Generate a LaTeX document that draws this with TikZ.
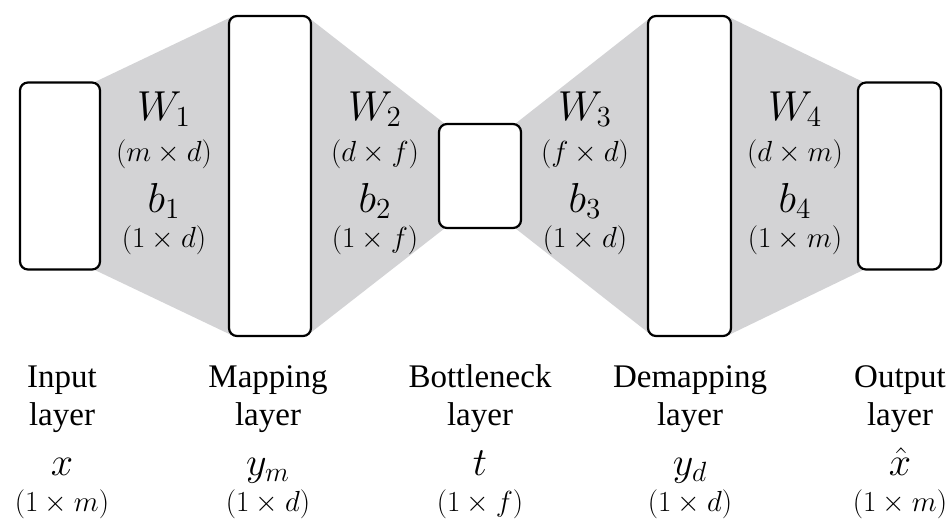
\documentclass[tikz,border=0pt]{standalone}
\usepackage{graphicx}
\usepackage{fontspec}
\setmainfont{Liberation Serif}
\definecolor{greyfill}{RGB}{211,211,213}
\newcommand{\mysymA}[1]{\scalebox{2.02}{\fontsize{20.74}{25}\selectfont$#1$}}
\newcommand{\mysymD}[1]{\scalebox{1.40}{\fontsize{20.74}{25}\selectfont$#1$}}
\newcommand{\mysymB}[1]{\scalebox{1.93}{\fontsize{20.74}{25}\selectfont$#1$}}
\begin{document}
\begin{tikzpicture}[x=1pt,y=-1pt,
  layerbox/.style={draw, line width=2.2pt, rounded corners=8pt, fill=white, inner sep=0pt},
  sym/.style={anchor=base, inner sep=0pt},
  dimlab/.style={anchor=base, inner sep=0pt},
  word/.style={anchor=base, inner sep=0pt, font=\fontsize{33}{40}\selectfont},
  bsym/.style={anchor=base, inner sep=0pt}]
\useasboundingbox (0,0) rectangle (949,519);
% box positions
\coordinate (pin) at (60,176);
\coordinate (pmap) at (270,176);
\coordinate (pbot) at (480,176);
\coordinate (pdem) at (689.5,176);
\coordinate (pout) at (899.5,176);
% invisible placeholders for geometry
\path (pin) node[minimum width=80pt, minimum height=187pt, inner sep=0pt] (in) {};
\path (pmap) node[minimum width=82pt, minimum height=320pt, inner sep=0pt] (map) {};
\path (pbot) node[minimum width=82pt, minimum height=104pt, inner sep=0pt] (bot) {};
\path (pdem) node[minimum width=83pt, minimum height=320pt, inner sep=0pt] (dem) {};
\path (pout) node[minimum width=83pt, minimum height=187pt, inner sep=0pt] (out) {};
% grey connections
\fill[greyfill] ([xshift=-6pt]in.north east) -- ([xshift=5pt]map.north west) -- ([xshift=5pt]map.south west) -- ([xshift=-6pt]in.south east) -- cycle;
\fill[greyfill] ([xshift=-5pt]map.north east) -- ([xshift=6pt]bot.north west) -- ([xshift=6pt]bot.south west) -- ([xshift=-5pt]map.south east) -- cycle;
\fill[greyfill] ([xshift=-6pt]bot.north east) -- ([xshift=5pt]dem.north west) -- ([xshift=5pt]dem.south west) -- ([xshift=-6pt]bot.south east) -- cycle;
\fill[greyfill] ([xshift=-5pt]dem.north east) -- ([xshift=6pt]out.north west) -- ([xshift=6pt]out.south west) -- ([xshift=-5pt]dem.south east) -- cycle;
% boxes
\node[layerbox, minimum width=80pt, minimum height=187pt] (inbox) at (pin) {};
\node[layerbox, minimum width=82pt, minimum height=320pt] (mapbox) at (pmap) {};
\node[layerbox, minimum width=82pt, minimum height=104pt] (botbox) at (pbot) {};
\node[layerbox, minimum width=83pt, minimum height=320pt] (dembox) at (pdem) {};
\node[layerbox, minimum width=83pt, minimum height=187pt] (outbox) at (pout) {};
% weights
\node[sym] (w1) at (164,120) {\mysymA{W_1}};
\node[dimlab] (w1d) at (164,161) {\mysymD{(m\times d)}};
\node[sym] (b1) at (164,212) {\mysymA{b_1}};
\node[dimlab] (b1d) at (164,247) {\mysymD{(1\times d)}};
\node[sym] (w2) at (375,120) {\mysymA{W_2}};
\node[dimlab] (w2d) at (375,161) {\mysymD{(d\times f)}};
\node[sym] (b2) at (375,212) {\mysymA{b_2}};
\node[dimlab] (b2d) at (375,247) {\mysymD{(1\times f)}};
\node[sym] (w3) at (585,120) {\mysymA{W_3}};
\node[dimlab] (w3d) at (585,161) {\mysymD{(f\times d)}};
\node[sym] (b3) at (585,212) {\mysymA{b_3}};
\node[dimlab] (b3d) at (585,247) {\mysymD{(1\times d)}};
\node[sym] (w4) at (795,120) {\mysymA{W_4}};
\node[dimlab] (w4d) at (795,161) {\mysymD{(d\times m)}};
\node[sym] (b4) at (795,212) {\mysymA{b_4}};
\node[dimlab] (b4d) at (795,247) {\mysymD{(1\times m)}};
% bottom labels
\node[word] (l1a) at (62,387) {Input};
\node[word] (l1b) at (62,425) {layer};
\node[bsym] (l1c) at (62,475) {\mysymB{x}};
\node[dimlab] (l1d) at (62,511) {\mysymD{(1\times m)}};
\node[word] (l2a) at (268,387) {Mapping};
\node[word] (l2b) at (268,425) {layer};
\node[bsym] (l2c) at (268,475) {\mysymB{y_m}};
\node[dimlab] (l2d) at (268,511) {\mysymD{(1\times d)}};
\node[word] (l3a) at (480,387) {Bottleneck};
\node[word] (l3b) at (480,425) {layer};
\node[bsym] (l3c) at (480,475) {\mysymB{t}};
\node[dimlab] (l3d) at (480,511) {\mysymD{(1\times f)}};
\node[word] (l4a) at (690,387) {Demapping};
\node[word] (l4b) at (690,425) {layer};
\node[bsym] (l4c) at (690,475) {\mysymB{y_d}};
\node[dimlab] (l4d) at (690,511) {\mysymD{(1\times d)}};
\node[word] (l5a) at (900,387) {Output};
\node[word] (l5b) at (900,425) {layer};
\node[bsym] (l5c) at (900,475) {\mysymB{\hat{x}}};
\node[dimlab] (l5d) at (900,511) {\mysymD{(1\times m)}};
\end{tikzpicture}
\end{document}
